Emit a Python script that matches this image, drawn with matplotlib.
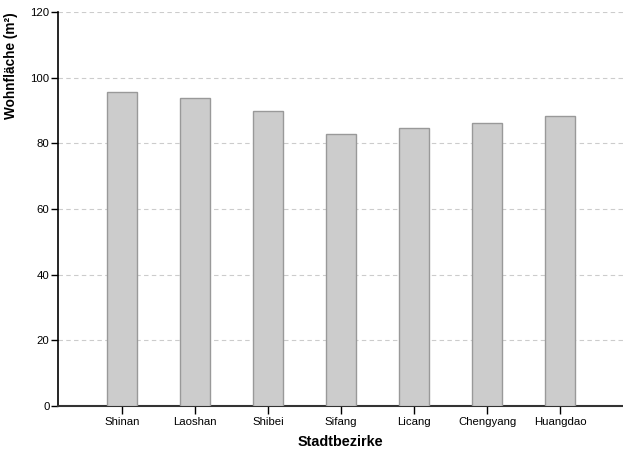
import matplotlib
matplotlib.use("Agg")
import numpy as np
from matplotlib import pyplot as plt

districts = ["Shinan", "Laoshan", "Shibei", "Sifang", "Licang", "Chengyang", "Huangdao"]
area = [95.7, 93.7, 89.8, 82.8, 84.5, 86.1, 88.2]
yticks = [0, 20, 40, 60, 80, 100, 120]

plt.rcParams["font.family"] = ["Liberation Sans", "DejaVu Sans"]

fig = plt.figure(figsize=(6.23, 4.55), dpi=100)
ax = fig.add_axes([0.093, 0.108, 0.907, 0.866])

x = np.arange(len(districts))
ax.bar(x, area, width=0.41, color="#cccccc", edgecolor="#999999", linewidth=1, zorder=3)

ax.set_xlim(-0.88, 6.86)
ax.set_ylim(0, 120)
ax.set_yticks(yticks)
ax.set_xticks(x)
ax.set_xticklabels(districts, fontsize=8.2)
ax.tick_params(axis="y", labelsize=8.2, length=5, width=1, pad=1)
ax.tick_params(axis="x", length=6, width=1, pad=2)

ax.yaxis.grid(True, linestyle=(0, (4, 3)), color="#cccccc", linewidth=0.8, zorder=0)
ax.spines["top"].set_visible(False)
ax.spines["right"].set_visible(False)
ax.spines["left"].set_linewidth(1.2)
ax.spines["bottom"].set_linewidth(1.5)
ax.spines["bottom"].set_color("#333333")

ax.set_xlabel("Stadtbezirke", fontsize=10.4, fontweight="bold", labelpad=6)
ax.set_ylabel("Wohnfläche (m²)", fontsize=9.8, fontweight="bold")
ax.yaxis.set_label_coords(-0.071, 0.863)

plt.savefig("out.png", dpi=100)
plt.close()
